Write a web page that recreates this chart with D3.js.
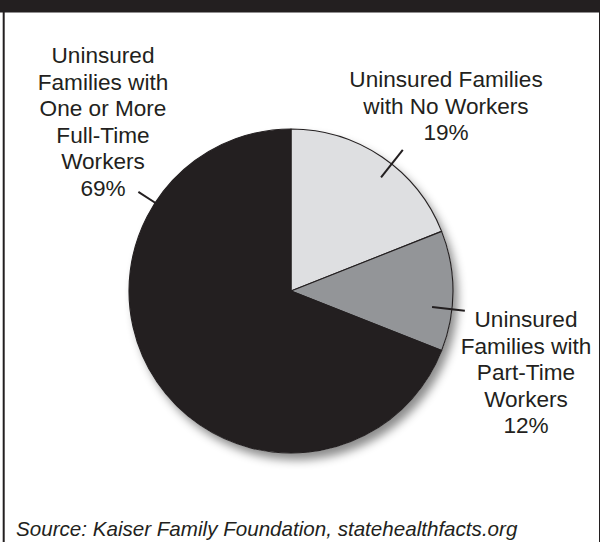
<!DOCTYPE html>
<html>
<head>
<meta charset="utf-8">
<script src="https://cdn.jsdelivr.net/npm/d3@7"></script>
<style>
  html, body { margin: 0; padding: 0; background: #fff; }
  svg { display: block; }
  text { font-family: "Liberation Sans", Arial, Helvetica, sans-serif; fill: #231f20; }
</style>
</head>
<body>
<svg id="chart" width="600" height="542"></svg>
<script>
// Share of uninsured, by work status of the family
const categories = [
  "Uninsured Families with No Workers",
  "Uninsured Families with Part-Time Workers",
  "Uninsured Families with One or More Full-Time Workers"
];
const shares = [19, 12, 69];
const labelLines = [
  ["Uninsured Families", "with No Workers"],
  ["Uninsured", "Families with", "Part-Time", "Workers"],
  ["Uninsured", "Families with", "One or More", "Full-Time", "Workers"]
];
const sliceColors = ["#dedfe1", "#939598", "#231f20"];
const sourceNote = "Source: Kaiser Family Foundation, statehealthfacts.org";

const W = 600, H = 542;
const cx = 291, cy = 291, R = 162;
const ink = "#231f20";

// label placement: text block centre, first baseline, leader angle (deg, clockwise from top) and radii
const labelLayout = [
  { x: 446, y: 87,  angle: 38.4,  r0: 145, r1: 180 },
  { x: 526, y: 327, angle: 96.5,  r0: 142, r1: 175 },
  { x: 103, y: 63,  angle: 303,   r0: 162, r1: 182 }
];
const lineHeight = 26.6;

const svg = d3.select("#chart");

// frame: dark band on top, rules on the sides
svg.append("rect").attr("x", 0).attr("y", 0).attr("width", W).attr("height", 12.5).attr("fill", ink);
svg.append("line").attr("x1", 3.7).attr("x2", 3.7).attr("y1", 12).attr("y2", H)
  .attr("stroke", ink).attr("stroke-width", 2);
svg.append("line").attr("x1", 599.5).attr("x2", 599.5).attr("y1", 12).attr("y2", H)
  .attr("stroke", ink).attr("stroke-width", 1);

// soft drop shadow under the pie
const defs = svg.append("defs");
const f = defs.append("filter").attr("id", "shadow")
  .attr("x", "-20%").attr("y", "-20%").attr("width", "150%").attr("height", "150%");
f.append("feDropShadow").attr("dx", 5).attr("dy", 7).attr("stdDeviation", 5)
  .attr("flood-color", "#000").attr("flood-opacity", 0.45);

const pie = d3.pie().sort(null).value(d => d).startAngle(0).endAngle(2 * Math.PI);
const arcs = pie(shares);
const arc = d3.arc().innerRadius(0).outerRadius(R);

const g = svg.append("g").attr("transform", `translate(${cx},${cy})`);

// shadow disc drawn from the same arcs
g.append("g").attr("filter", "url(#shadow)")
  .selectAll("path").data(arcs).join("path")
  .attr("d", arc).attr("fill", "#fff");

g.selectAll("path.slice").data(arcs).join("path")
  .attr("class", "slice")
  .attr("d", arc)
  .attr("fill", (d, i) => sliceColors[i])
  .attr("stroke", ink)
  .attr("stroke-width", 1.1)
  .attr("stroke-linejoin", "round");

// leader lines
const polar = (deg, r) => {
  const a = deg * Math.PI / 180;
  return [cx + r * Math.sin(a), cy - r * Math.cos(a)];
};
labelLayout.forEach(L => {
  const [x1, y1] = polar(L.angle, L.r0);
  const [x2, y2] = polar(L.angle, L.r1);
  svg.append("line")
    .attr("x1", x1).attr("y1", y1).attr("x2", x2).attr("y2", y2)
    .attr("stroke", ink).attr("stroke-width", 2);
});

// slice labels, with the share on the last line
labelLines.forEach((lines, i) => {
  const L = labelLayout[i];
  const all = lines.concat([`${shares[i]}%`]);
  const t = svg.append("text")
    .attr("text-anchor", "middle")
    .attr("font-size", "22.6px");
  all.forEach((s, k) => {
    t.append("tspan").attr("x", L.x).attr("y", L.y + k * lineHeight).text(s);
  });
  t.append("title").text(categories[i]);
});

// source note
svg.append("text")
  .attr("x", 16).attr("y", 536)
  .attr("font-size", "20.6px")
  .attr("font-style", "italic")
  .text(sourceNote);
</script>
</body>
</html>
